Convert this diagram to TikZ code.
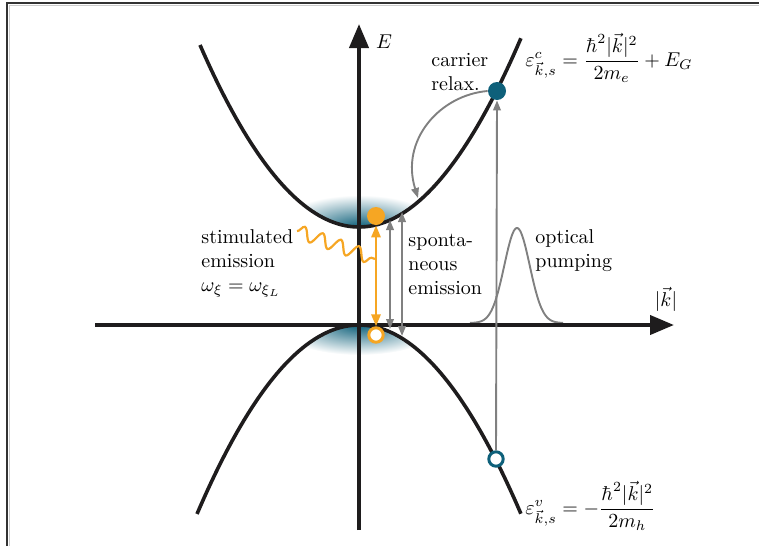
\documentclass[tikz,border=0pt]{standalone}
\usepackage{amsmath}
\usetikzlibrary{arrows.meta,decorations.pathmorphing}
\definecolor{bandteal}{RGB}{14,96,122}
\definecolor{laserorange}{RGB}{246,166,35}
\definecolor{arrowgray}{RGB}{128,128,128}
\definecolor{curveblack}{RGB}{30,28,29}
\begin{document}
\begin{tikzpicture}[x=0.5pt,y=-0.5pt,
  axisline/.style={line width=2pt, curveblack, -{Triangle[length=12pt,width=9.5pt]}},
  bandline/.style={line width=1.8pt, curveblack},
  grayline/.style={line width=0.95pt, arrowgray},
  grayarrow/.style={grayline, {Triangle[length=5pt,width=3.8pt]}-{Triangle[length=5pt,width=3.8pt]}},
  grayonearrow/.style={grayline, -{Triangle[length=5pt,width=3.8pt]}},
  orangearrow/.style={line width=1.2pt, laserorange, {Triangle[length=6pt,width=4.6pt]}-{Triangle[length=6pt,width=4.6pt]}},
  lbl/.style={align=left, inner sep=0pt, anchor=west},
  fulldot/.style={circle, inner sep=0pt, minimum size=9pt},
  hollowdot/.style={circle, inner sep=0pt, minimum size=7.2pt, fill=white, line width=1.5pt}
]
\useasboundingbox (0,0) rectangle (759,546);
% frame
\draw[line width=0.7pt, black!80] (7,546) -- (7,3) -- (759,3);
\draw[line width=0.5pt, black!20] (9,546) -- (9,5.5) -- (759,5.5);

% shading in the bands
\begin{scope}
  \clip plot[domain=-1.6:1.62, samples=60] ({359+100*\x},{227-72*\x*\x}) -- cycle;
  \shade[shading=radial, inner color=bandteal, outer color=white] (359,227) ellipse [x radius=82, y radius=32];
\end{scope}
\begin{scope}
  \clip plot[domain=-1.62:1.62, samples=60] ({359+100*\x},{325+72*\x*\x}) -- cycle;
  \shade[shading=radial, inner color=bandteal, outer color=white] (359,325) ellipse [x radius=82, y radius=30];
\end{scope}

% gaussian pump profile
\draw[grayline] plot[domain=470:563, samples=90, smooth] (\x,{323-95*exp(-(\x-517)^2/322)});

% axes
\coordinate (xa0) at (95,325);
\coordinate (xa1) at (674,325);
\coordinate (ya0) at (359,530);
\coordinate (ya1) at (359,24);
\draw[axisline] (xa0) -- (xa1);
\draw[axisline] (ya0) -- (ya1);
\node (Elbl) at (384,42) {$E$};
\node (klbl) at (666,299) {$|\vec{k}|$};

% bands
\draw[bandline] plot[domain=-1.59:1.62, samples=90] ({359+100*\x},{227-72*\x*\x});
\draw[bandline] plot[domain=-1.62:1.62, samples=90] ({359+100*\x},{325+72*\x*\x});

% spontaneous emission arrows
\coordinate (g1t) at (390,220);
\coordinate (g1b) at (390,329);
\coordinate (g2t) at (402,212);
\coordinate (g2b) at (402,336);
\draw[grayarrow] (g1b) -- (g1t);
\draw[grayarrow] (g2b) -- (g2t);

% optical pumping
\node[fulldot, fill=bandteal] (cdot) at (497,91) {};
\node[hollowdot, draw=bandteal] (vhol) at (496,459) {};
\draw[grayonearrow] (vhol.north) -- (cdot.south);

% carrier relaxation
\coordinate (relaxend) at (418,198);
\draw[grayonearrow] (cdot.west) .. controls (440,95) and (400,140) .. (relaxend);

% stimulated emission
\node[fulldot, fill=laserorange] (odot) at (376,216) {};
\node[hollowdot, draw=laserorange] (ohol) at (376,335) {};
\draw[orangearrow] (odot.south) -- (ohol.north);
\coordinate (wv0) at (297,231);
\coordinate (wv1) at (375,259);
\draw[line width=1.1pt, laserorange, decorate, decoration={snake, segment length=9.6pt, amplitude=3.3pt, post length=1pt}] (wv0) -- (wv1);

% labels
\node[lbl] (stim) at (201,263) {stimulated\\emission\\$\omega_\xi=\omega_{\xi_L}$};
\node[lbl] (spont) at (408,264) {sponta-\\neous\\emission};
\node[lbl] (optp) at (535,251) {optical\\pumping};
\node[lbl] (carr) at (431,72) {carrier\\relax.};
\node[lbl] (ceq) at (525,58) {$\varepsilon^{c}_{\vec{k},s}=\dfrac{\hbar^2|\vec{k}|^2}{2m_e}+E_G$};
\node[lbl] (veq) at (525,506) {$\varepsilon^{v}_{\vec{k},s}=-\dfrac{\hbar^2|\vec{k}|^2}{2m_h}$};
\end{tikzpicture}
\end{document}
